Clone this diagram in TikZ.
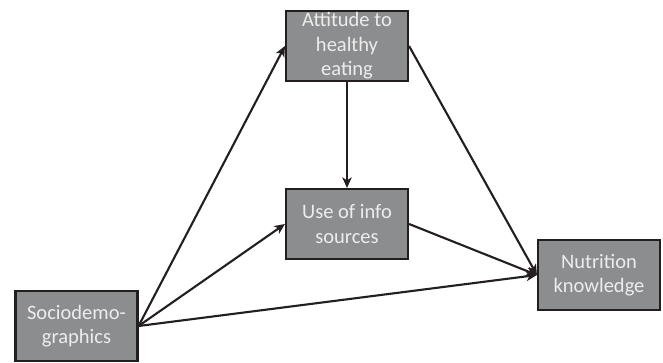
\documentclass[tikz,border=0pt]{standalone}
\usepackage{fontspec}
\setmainfont{Carlito}
\usetikzlibrary{arrows.meta}
\definecolor{boxgray}{HTML}{8C8D8F}
\definecolor{boxline}{HTML}{231F20}
\definecolor{boxtext}{HTML}{EDEDED}
\begin{document}
\begin{tikzpicture}[node distance=5.34cm,
    block/.style={rectangle, draw=boxline, line width=1.8pt, fill=boxgray, text=boxtext, minimum width=3.66cm, minimum height=2.1cm, align=center, inner sep=1pt, font=\fontsize{17.5}{21}\selectfont},
    arrow/.style={line width=1.8pt, draw=boxline, -{Stealth[length=9pt, width=8pt, inset=2.5pt]}}]
    \useasboundingbox (0,0) rectangle (19.89,-10.89);
    \node [block] (att) at (10.41,-1.38) {Attitude to\\healthy\\eating};
    \node [block, below of=att] (info) {Use of info\\sources};
    \node [block] (know) at (17.97,-8.25) {Nutrition\\knowledge};
    \node [block] (socio) at (2.295,-9.78) {Sociodemo-\\graphics};
    \draw [arrow] (socio.east) -- (att.west);
    \draw [arrow] (socio.east) -- (info.west);
    \draw [arrow] (socio.east) -- (know.west);
    \draw [arrow] (att) -- (info);
    \draw [arrow] (att.east) -- (know.west);
    \draw [arrow] (info.east) -- (know.west);
\end{tikzpicture}
\end{document}
